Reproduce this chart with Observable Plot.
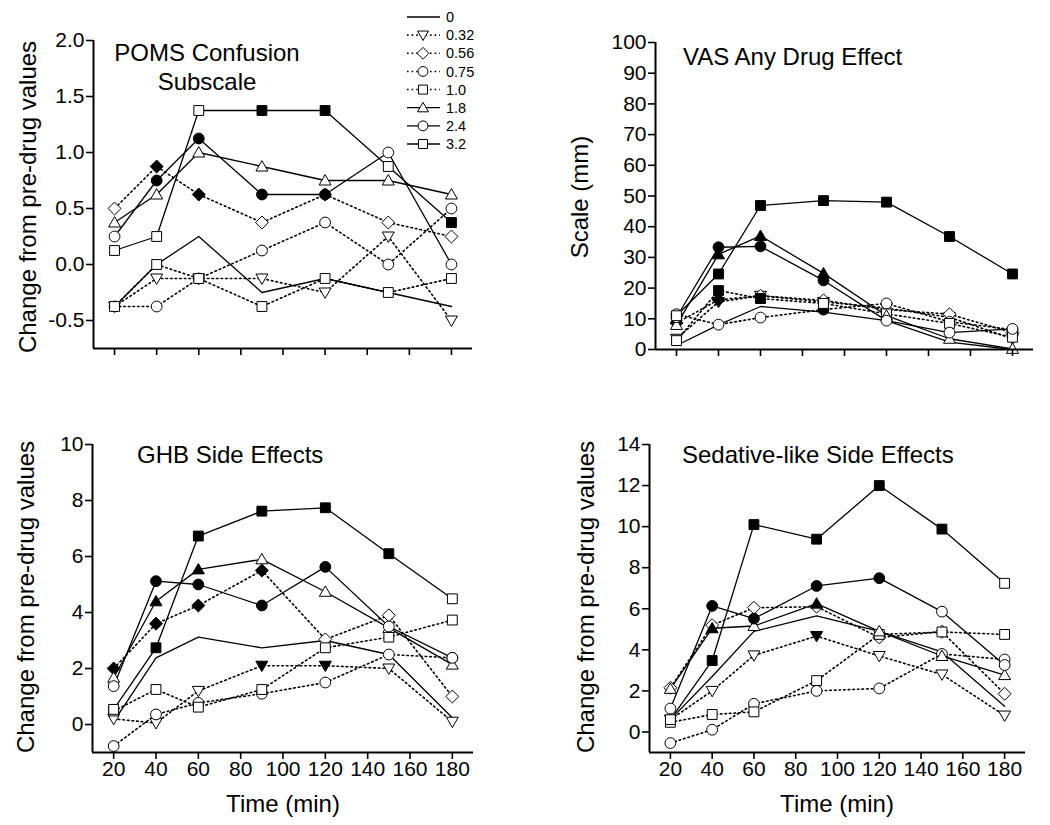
<!DOCTYPE html>
<html><head><meta charset="utf-8">
<script src="https://cdn.jsdelivr.net/npm/d3@7"></script>
<script src="https://cdn.jsdelivr.net/npm/@observablehq/plot@0.6"></script>
<style>
body{margin:0;background:#fff}
#wrap{position:relative;width:1050px;height:825px;overflow:hidden;font-family:'Liberation Sans',Arial,sans-serif;color:#000;background:#fff}
.p{position:absolute}
.t{position:absolute;white-space:nowrap;line-height:1;font-size:24px}
.yl{position:absolute;white-space:nowrap;line-height:1;font-size:24px;transform:translate(-50%,-50%) rotate(-90deg)}
</style></head>
<body><div id="wrap"></div>
<script>
// ---------- data ----------
const times = [20, 40, 60, 90, 120, 150, 180];
const xTicks = [20, 40, 60, 80, 100, 120, 140, 160, 180];
const doses = ["0", "0.32", "0.56", "0.75", "1.0", "1.8", "2.4", "3.2"];
const dotted = ["0.32", "0.56", "0.75", "1.0"];
const shapes = ["none", "triDown", "diamond", "circle", "square", "triUp", "circle", "square"];

// POMS Confusion Subscale (one row per dose)
const pomsValues = [
  [-0.375, 0.0, 0.25, -0.25, -0.125, -0.25, -0.375],
  [-0.375, -0.125, -0.125, -0.125, -0.25, 0.25, -0.5],
  [0.5, 0.875, 0.625, 0.375, 0.625, 0.375, 0.25],
  [-0.375, -0.375, -0.125, 0.125, 0.375, 0.0, 0.5],
  [-0.375, 0.0, -0.125, -0.375, -0.125, -0.25, -0.125],
  [0.375, 0.625, 1.0, 0.875, 0.75, 0.75, 0.625],
  [0.25, 0.75, 1.125, 0.625, 0.625, 1.0, 0.0],
  [0.125, 0.25, 1.375, 1.375, 1.375, 0.875, 0.375]
];
const pomsFilled = ["0000000","0000000","0110100","0000000","0000000","0000000","0111100","0001101"];
const pomsTicks = [-0.5, 0, 0.5, 1.0, 1.5, 2.0];

// VAS Any Drug Effect
const vasValues = [
  [1.3, 8.0, 14.0, 12.2, 9.4, 2.4, 0],
  [3.5, 15.5, 17.5, 15.5, 13.5, 10.5, 3.5],
  [8.6, 16.2, 17.5, 16.0, 13.0, 11.5, 5.5],
  [11.5, 8.1, 10.4, 13.0, 15.0, 9.0, 6.5],
  [2.9, 19.2, 16.6, 15.0, 11.6, 8.5, 4.0],
  [8.0, 31.0, 37.0, 24.8, 11.0, 3.5, 0.2],
  [10.5, 33.3, 33.6, 22.5, 9.4, 5.5, 6.7],
  [11.0, 24.6, 46.9, 48.5, 48.0, 36.8, 24.6]
];
const vasFilled = ["0000000","0000000","1100000","0001000","0110000","0111000","0111000","0111111"];
const vasTicks = [0, 10, 20, 30, 40, 50, 60, 70, 80, 90, 100];

// GHB Side Effects
const ghbValues = [
  [0.1, 2.38, 3.12, 2.74, 3.0, 2.5, 0.24],
  [0.2, 0.05, 1.2, 2.1, 2.1, 2.0, 0.1],
  [2.0, 3.6, 4.25, 5.5, 3.04, 3.9, 1.0],
  [-0.77, 0.36, 0.77, 1.1, 1.5, 2.5, 2.38],
  [0.48, 1.25, 0.62, 1.25, 2.74, 3.12, 3.73],
  [1.67, 4.4, 5.54, 5.9, 4.74, 3.45, 2.14],
  [1.37, 5.12, 5.0, 4.25, 5.63, 3.5, 2.38],
  [0.54, 2.74, 6.73, 7.62, 7.74, 6.1, 4.49]
];
const ghbFilled = ["0000000","0001100","1111000","0000000","0000000","0110000","0111100","0111110"];
const ghbTicks = [0, 2, 4, 6, 8, 10];

// Sedative-like Side Effects
const sedValues = [
  [0.6, 2.7, 4.9, 5.65, 4.9, 3.9, 1.25],
  [0.6, 2.0, 3.73, 4.67, 3.7, 2.8, 0.8],
  [2.15, 5.2, 6.05, 6.1, 4.6, 4.88, 1.86],
  [-0.54, 0.11, 1.37, 2.0, 2.12, 3.8, 3.53],
  [0.47, 0.85, 0.98, 2.5, 4.75, 4.87, 4.75],
  [2.1, 5.05, 5.16, 6.25, 4.9, 3.7, 2.77],
  [1.14, 6.14, 5.52, 7.11, 7.49, 5.86, 3.26],
  [0.6, 3.48, 10.1, 9.39, 12.0, 9.88, 7.24]
];
const sedFilled = ["0000000","0001000","0000000","0000000","0000000","0101000","0111100","0111110"];
const sedTicks = [0, 2, 4, 6, 8, 10, 12, 14];

// ---------- symbols ----------
function sym(kind) {
  return {draw(ctx, size) {
    const r = Math.sqrt(size / Math.PI);
    if (kind === "circle") { const c = r * 0.9; ctx.moveTo(c, 0); ctx.arc(0, 0, c, 0, 2 * Math.PI); }
    else if (kind === "square") { const s = r * 0.82; ctx.moveTo(-s, -s); ctx.lineTo(s, -s); ctx.lineTo(s, s); ctx.lineTo(-s, s); ctx.closePath(); }
    else if (kind === "diamond") { const d = r * 1.08; ctx.moveTo(0, -d); ctx.lineTo(d, 0); ctx.lineTo(0, d); ctx.lineTo(-d, 0); ctx.closePath(); }
    else if (kind === "triUp") { ctx.moveTo(0, -r * 0.98); ctx.lineTo(r, r * 0.75); ctx.lineTo(-r, r * 0.75); ctx.closePath(); }
    else if (kind === "triDown") { ctx.moveTo(0, r * 0.98); ctx.lineTo(r, -r * 0.75); ctx.lineTo(-r, -r * 0.75); ctx.closePath(); }
  }};
}

function rowsOf(values, filled) {
  const rows = [];
  doses.forEach((d, i) => times.forEach((t, j) => rows.push({dose: d, i, t, v: values[i][j], f: filled[i][j] === "1"})));
  return rows;
}

const font = "'Liberation Sans', Arial, sans-serif";
const dash = "1.6,3";
const wrap = document.getElementById("wrap");

function panel(o) {
  const rows = rowsOf(o.values, o.filled);
  const marks = [
    Plot.line(rows.filter(r => !dotted.includes(r.dose)), {x: "t", y: "v", z: "dose", stroke: "black", strokeWidth: 1.3}),
    Plot.line(rows.filter(r => dotted.includes(r.dose)), {x: "t", y: "v", z: "dose", stroke: "black", strokeWidth: 1.6, strokeDasharray: dash})
  ];
  doses.forEach((d, i) => {
    if (shapes[i] === "none") return;
    const s = sym(shapes[i]);
    const pts = rows.filter(r => r.dose === d);
    marks.push(Plot.dot(pts.filter(r => !r.f), {x: "t", y: "v", symbol: s, r: 6, fill: "white", stroke: "black", strokeWidth: 1}));
    marks.push(Plot.dot(pts.filter(r => r.f), {x: "t", y: "v", symbol: s, r: 6, fill: "black", stroke: "black", strokeWidth: 1}));
  });
  marks.push(
    Plot.ruleX([10], {strokeWidth: 2}),
    Plot.ruleY([o.yDomain[0]], {strokeWidth: 2}),
    Plot.axisY({ticks: o.yTicks, tickSize: 7, tickPadding: 2, strokeWidth: 1.6, tickFormat: o.yFormat, label: null}),
    Plot.axisX({ticks: xTicks, tickSize: 7, tickPadding: 2, strokeWidth: 1.6, tickFormat: o.xLabels ? (d => String(d)) : (() => ""), label: null})
  );
  const chart = Plot.plot({
    width: o.width, height: o.height,
    marginLeft: o.ml, marginRight: o.mr, marginTop: o.mt, marginBottom: o.mb,
    x: {domain: [10, 190]},
    y: {domain: o.yDomain},
    style: {fontFamily: font, fontSize: "21px", color: "black", background: "transparent", overflow: "visible"},
    marks
  });
  chart.classList.add("p");
  chart.style.left = o.left + "px";
  chart.style.top = o.top + "px";
  wrap.appendChild(chart);
}

panel({values: pomsValues, filled: pomsFilled, yDomain: [-0.75, 2.0], yTicks: pomsTicks, yFormat: d => d.toFixed(1), xLabels: false,
  left: 0, top: 0, width: 520, height: 400, ml: 93, mr: 48, mt: 40, mb: 52});
panel({values: vasValues, filled: vasFilled, yDomain: [0, 100], yTicks: vasTicks, yFormat: d => String(d), xLabels: false,
  left: 520, top: 0, width: 530, height: 400, ml: 135, mr: 17, mt: 42, mb: 51});
panel({values: ghbValues, filled: ghbFilled, yDomain: [-1, 10], yTicks: ghbTicks, yFormat: d => String(d), xLabels: true,
  left: 0, top: 420, width: 520, height: 405, ml: 92, mr: 47, mt: 24, mb: 73});
panel({values: sedValues, filled: sedFilled, yDomain: [-1, 14], yTicks: sedTicks, yFormat: d => String(d), xLabels: true,
  left: 520, top: 420, width: 530, height: 405, ml: 129, mr: 25, mt: 24, mb: 73});

// ---------- text ----------
function addText(cls, txt, css) {
  const el = document.createElement("div");
  el.className = cls; el.textContent = txt;
  Object.assign(el.style, css);
  wrap.appendChild(el);
  return el;
}
const t1 = addText("t", "", {left: "87px", top: "38px", width: "240px", textAlign: "center", lineHeight: "29px"});
t1.innerHTML = "POMS Confusion<br>Subscale";
addText("t", "VAS Any Drug Effect", {left: "683px", top: "45px"});
addText("t", "GHB Side Effects", {left: "137px", top: "443px"});
addText("t", "Sedative-like Side Effects", {left: "682px", top: "443px"});
addText("t", "Time (min)", {left: "283px", top: "792px", transform: "translateX(-50%)"});
addText("t", "Time (min)", {left: "837px", top: "792px", transform: "translateX(-50%)"});
addText("yl", "Change from pre-drug values", {left: "28px", top: "197px"});
addText("yl", "Scale (mm)", {left: "580px", top: "197px"});
addText("yl", "Change from pre-drug values", {left: "26px", top: "597px"});
addText("yl", "Change from pre-drug values", {left: "586px", top: "597px"});

// ---------- legend ----------
const leg = d3.select(wrap).append("svg").attr("width", 520).attr("height", 160)
  .style("position", "absolute").style("left", "0px").style("top", "0px").style("overflow", "visible");
const rowY = d3.scalePoint().domain(doses).range([17, 144]);
doses.forEach((d, i) => {
  const g = leg.append("g").attr("transform", `translate(0,${rowY(d)})`);
  g.append("line").attr("x1", 407).attr("x2", 440).attr("y1", 0).attr("y2", 0)
    .attr("stroke", "black").attr("stroke-width", dotted.includes(d) ? 1.6 : 1.3)
    .attr("stroke-dasharray", dotted.includes(d) ? dash : null);
  if (shapes[i] !== "none") {
    const p = d3.path(); sym(shapes[i]).draw(p, Math.PI * 30);
    g.append("path").attr("d", p.toString()).attr("transform", "translate(423,0)")
      .attr("fill", "white").attr("stroke", "black").attr("stroke-width", 1);
  }
  g.append("text").attr("x", 446).attr("y", 0).attr("dy", "0.35em").attr("font-family", font).attr("font-size", 14.5).text(d);
});
</script></body></html>
